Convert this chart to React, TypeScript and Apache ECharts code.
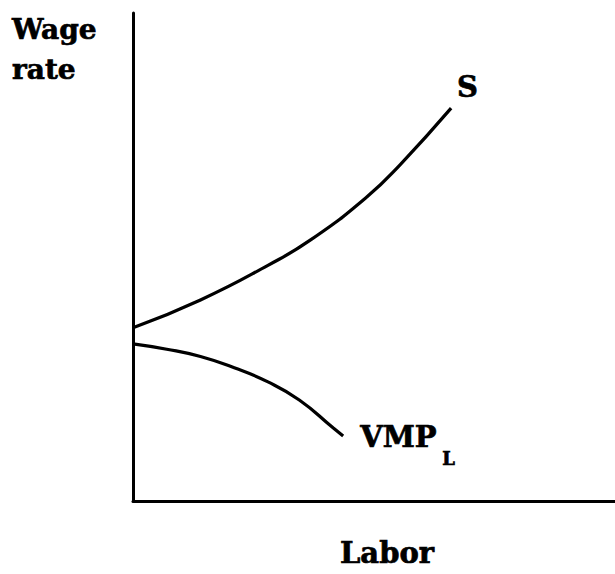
import React, { useEffect, useRef } from "react";
import * as echarts from "echarts";

// Labor quantity (x) and wage rate (y), in percent of the axis ranges
const supplyLabor = [0, 14, 28, 37, 48.5, 55.5, 66];
const supplyWage = [35.5, 41.2, 48.3, 53.6, 62.3, 69.0, 80.5];

const vmpLabor = [0, 7, 14, 21, 28, 34.5, 41.5, 43.6];
const vmpWage = [32.2, 31.1, 29.6, 27.3, 24.4, 20.7, 15.0, 13.3];

const yAxisTitle = ["Wage", "rate"];
const xAxisTitle = "Labor";
const supplyName = "S";
const vmpName = "VMP";
const vmpSub = "L";

const FONT = "'DejaVu Serif', 'Liberation Serif', serif";

export default function App() {
  const ref = useRef<HTMLDivElement>(null);

  useEffect(() => {
    if (!ref.current) return;
    const chart = echarts.init(ref.current, null, { renderer: "svg" });
    const sData = supplyLabor.map((x, i) => [x, supplyWage[i]]);
    const vData = vmpLabor.map((x, i) => [x, vmpWage[i]]);
    const lineStyle = { color: "#000", width: 3.2 };
    chart.setOption({
      animation: false,
      backgroundColor: "#fff",
      grid: { left: 133, right: 0, top: 13, bottom: 73 },
      xAxis: {
        type: "value",
        min: 0,
        max: 100,
        axisLine: { show: true, lineStyle: { color: "#000", width: 3 } },
        axisTick: { show: false },
        axisLabel: { show: false },
        splitLine: { show: false },
      },
      yAxis: {
        type: "value",
        min: 0,
        max: 100,
        axisLine: { show: true, lineStyle: { color: "#000", width: 3 } },
        axisTick: { show: false },
        axisLabel: { show: false },
        splitLine: { show: false },
      },
      series: [
        {
          name: supplyName,
          type: "line",
          data: sData,
          smooth: 0.5,
          showSymbol: false,
          lineStyle,
        },
        {
          name: vmpName + vmpSub,
          type: "line",
          data: vData,
          smooth: 0.5,
          showSymbol: false,
          lineStyle,
        },
      ],
    });

    const sEnd = chart.convertToPixel({ gridIndex: 0 }, sData[sData.length - 1]) as number[];
    const vEnd = chart.convertToPixel({ gridIndex: 0 }, vData[vData.length - 1]) as number[];
    const txt = (text: string, x: number, y: number, size: number, align = "left") => ({
      type: "text",
      x,
      y,
      style: {
        text,
        fill: "#000",
        stroke: "#000",
        lineWidth: 0.7,
        font: `bold ${size}px ${FONT}`,
        align,
        verticalAlign: "middle",
      },
    });
    chart.setOption({
      graphic: [
        txt(yAxisTitle[0], 12, 29, 28),
        txt(yAxisTitle[1], 12, 69, 28),
        txt(xAxisTitle, 387, 553, 29, "center"),
        txt(supplyName, sEnd[0] + 6, sEnd[1] - 21, 29),
        txt(vmpName, vEnd[0] + 17, vEnd[1] + 1, 29),
        txt(vmpSub, vEnd[0] + 99, vEnd[1] + 22, 18),
      ],
    });

    return () => chart.dispose();
  }, []);

  return (
    <div
      ref={ref}
      style={{ position: "absolute", left: 0, top: 0, width: 615, height: 574, background: "#fff" }}
    />
  );
}
